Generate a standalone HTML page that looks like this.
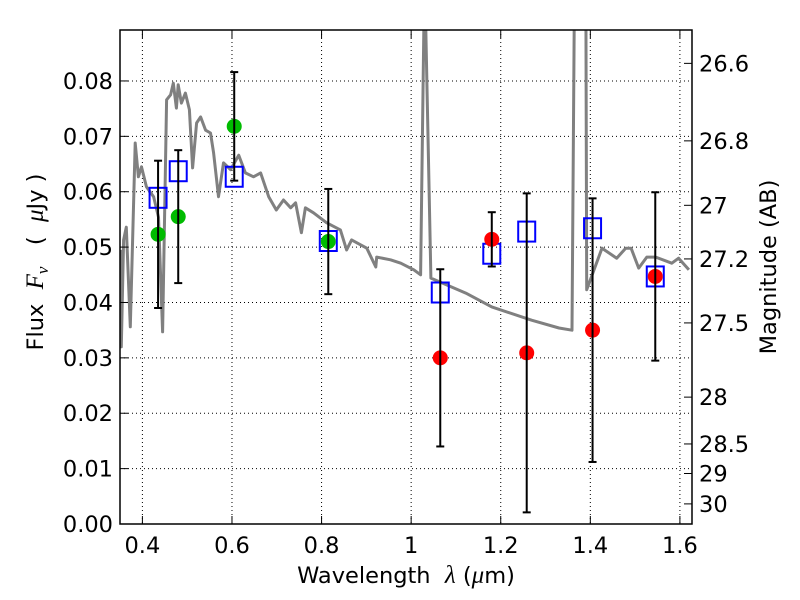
<!DOCTYPE html>
<html><head><meta charset="utf-8"><style>
html,body{margin:0;padding:0;background:#fff;}
svg{display:block;font-family:"DejaVu Sans","Liberation Sans",sans-serif;}
</style></head><body>
<svg id="chart" width="800" height="600" viewBox="0 0 800 600"></svg>
<script>
const specWave=[0.351,0.353,0.358,0.364,0.373,0.384,0.391,0.398,0.409,0.425,0.436,0.445,0.454,0.463,0.469,0.476,0.480,0.487,0.496,0.505,0.512,0.521,0.530,0.541,0.552,0.559,0.570,0.581,0.597,0.615,0.630,0.648,0.664,0.682,0.699,0.715,0.731,0.742,0.755,0.764,0.782,0.811,0.842,0.856,0.867,0.901,0.921,0.923,0.954,0.977,1.006,1.021,1.030,1.044,1.122,1.180,1.269,1.330,1.359,1.365,1.390,1.392,1.426,1.459,1.479,1.491,1.508,1.526,1.546,1.582,1.597,1.620];
const specFlux=[0.0495,0.0320,0.0513,0.0536,0.0356,0.0688,0.0627,0.0645,0.0609,0.0591,0.0554,0.0347,0.0766,0.0775,0.0796,0.0751,0.0793,0.0760,0.0778,0.0748,0.0643,0.0724,0.0735,0.0711,0.0706,0.0670,0.0591,0.0652,0.0640,0.0666,0.0634,0.0627,0.0634,0.0591,0.0567,0.0585,0.0571,0.0580,0.0526,0.0571,0.0562,0.0544,0.0531,0.0495,0.0513,0.0498,0.0464,0.0482,0.0477,0.0471,0.0459,0.0450,0.1,0.0444,0.0417,0.0392,0.0368,0.0354,0.0350,0.1,0.1,0.0423,0.0498,0.0480,0.0498,0.0498,0.0462,0.0482,0.0482,0.0471,0.0480,0.0459];
const greenWave=[0.435,0.48,0.605,0.815];
const greenFlux=[0.0523,0.0555,0.0718,0.0510];
const greenErr=[0.0133,0.0120,0.0098,0.0095];
const redWave=[1.065,1.18,1.258,1.405,1.545];
const redFlux=[0.0300,0.0514,0.0309,0.0350,0.0447];
const redErr=[0.0160,0.0049,0.0288,0.0238,0.0152];
const modelWave=[0.435,0.48,0.605,0.815,1.065,1.18,1.258,1.405,1.545];
const modelFlux=[0.0589,0.0637,0.0627,0.0511,0.0418,0.0488,0.0528,0.0534,0.0447];
const xTicks=[0.4,0.6,0.8,1.0,1.2,1.4,1.6];
const xTickLabels=["0.4","0.6","0.8","1","1.2","1.4","1.6"];
const yTicks=[0,0.01,0.02,0.03,0.04,0.05,0.06,0.07,0.08];
const yTickLabels=["0.00","0.01","0.02","0.03","0.04","0.05","0.06","0.07","0.08"];
const magTicks=[26.6,26.8,27,27.2,27.5,28,28.5,29,30];
const magTickLabels=["26.6","26.8","27","27.2","27.5","28","28.5","29","30"];

const L=120,R=692,T=30,B=524,XMIN=0.35,XMAX=1.627,YMIN=0,YMAX=0.0892;
const FS=22.5;
const sx=v=>L+(v-XMIN)/(XMAX-XMIN)*(R-L);
const sy=v=>B-(v-YMIN)/(YMAX-YMIN)*(B-T);
const magToFlux=m=>Math.pow(10,(23.9-m)/2.5);
const NS="http://www.w3.org/2000/svg";
const svg=document.getElementById('chart');
function mk(tag,attrs,parent){const e=document.createElementNS(NS,tag);for(const k in attrs)e.setAttribute(k,attrs[k]);(parent||svg).appendChild(e);return e;}

const defs=mk('defs',{});
const cp=mk('clipPath',{id:'plotclip'},defs);
mk('rect',{x:L,y:T,width:R-L,height:B-T},cp);

const grid=mk('g',{});


xTicks.forEach(v=>{mk('line',{x1:sx(v),x2:sx(v),y1:T,y2:B,stroke:'#000','stroke-width':1,'stroke-dasharray':'1,3'},grid);});
yTicks.forEach(v=>{mk('line',{x1:L,x2:R,y1:sy(v),y2:sy(v),stroke:'#000','stroke-width':1,'stroke-dasharray':'1,3'},grid);});

const plot=mk('g',{'clip-path':'url(#plotclip)'});
let d='';
specWave.forEach((w,i)=>{d+=(i?'L':'M')+sx(w).toFixed(1)+','+sy(specFlux[i]).toFixed(1);});
const spec=mk('path',{d:d,fill:'none',stroke:'#808080','stroke-width':3,'stroke-linejoin':'round'},plot);



modelWave.forEach((w,i)=>{
  const r=mk('rect',{x:sx(w)-8.5,y:sy(modelFlux[i])-10,width:17,height:20,fill:'none',stroke:'#0000ff','stroke-width':2},plot);
  
  
});
function errbar(w,f,e){
  const g=mk('g',{stroke:'#000','stroke-width':2},plot);
  
  
  const x=sx(w),y1=sy(f+e),y2=sy(f-e);
  mk('line',{x1:x,x2:x,y1:y1,y2:y2},g);
  mk('line',{x1:x-4,x2:x+4,y1:y1,y2:y1},g);
  mk('line',{x1:x-4,x2:x+4,y1:y2,y2:y2},g);
}
greenWave.forEach((w,i)=>{
  const c=mk('circle',{cx:sx(w),cy:sy(greenFlux[i]),r:7.5,fill:'#00bb00'},plot);
  
  
  errbar(w,greenFlux[i],greenErr[i]);
});
redWave.forEach((w,i)=>{
  const c=mk('circle',{cx:sx(w),cy:sy(redFlux[i]),r:7.5,fill:'#ff0000'},plot);
  
  
  errbar(w,redFlux[i],redErr[i]);
});

const frame=mk('rect',{x:L,y:T,width:R-L,height:B-T,fill:'none',stroke:'#000','stroke-width':1.5});



xTicks.forEach((v,i)=>{
  mk('line',{x1:sx(v),x2:sx(v),y1:B,y2:B-8,stroke:'#000','stroke-width':1});
  mk('line',{x1:sx(v),x2:sx(v),y1:T,y2:T+8,stroke:'#000','stroke-width':1});
  const t=mk('text',{x:sx(v),y:B+29,'text-anchor':'middle','font-size':FS});
  t.textContent=xTickLabels[i];
  
  
});
yTicks.forEach((v,i)=>{
  mk('line',{x1:L,x2:L+8,y1:sy(v),y2:sy(v),stroke:'#000','stroke-width':1});
  const t=mk('text',{x:L-7,y:sy(v)+8,'text-anchor':'end','font-size':FS});
  t.textContent=yTickLabels[i];
  
  
});
magTicks.forEach((m,i)=>{
  const y=sy(magToFlux(m));
  mk('line',{x1:R,x2:R-8,y1:y,y2:y,stroke:'#000','stroke-width':1});
  const t=mk('text',{x:R+7,y:y+8,'text-anchor':'start','font-size':FS});
  t.textContent=magTickLabels[i];
  
  
});

const xl=mk('text',{x:406,y:583,'text-anchor':'middle','font-size':FS,style:'white-space:pre'});
xl.innerHTML='Wavelength  <tspan font-style="italic" font-family="Liberation Serif, serif" font-size="25">λ</tspan> (<tspan font-style="italic" font-family="Liberation Serif, serif" font-size="25">μ</tspan>m)';


const yl=mk('text',{x:0,y:0,'text-anchor':'middle','font-size':FS,transform:'translate(43,262) rotate(-90)',style:'white-space:pre'});
yl.innerHTML='Flux  <tspan font-style="italic" font-family="Liberation Serif, serif" font-size="25">F</tspan><tspan font-size="17" dy="5" font-style="italic" font-family="Liberation Serif, serif">ν</tspan><tspan dy="-5">   (  </tspan><tspan font-style="italic" font-family="Liberation Serif, serif" font-size="25">μ</tspan>Jy )';


const rl=mk('text',{x:0,y:0,'text-anchor':'middle','font-size':FS,transform:'translate(776,267) rotate(-90)'});
rl.textContent='Magnitude (AB)';


</script>
</body></html>
